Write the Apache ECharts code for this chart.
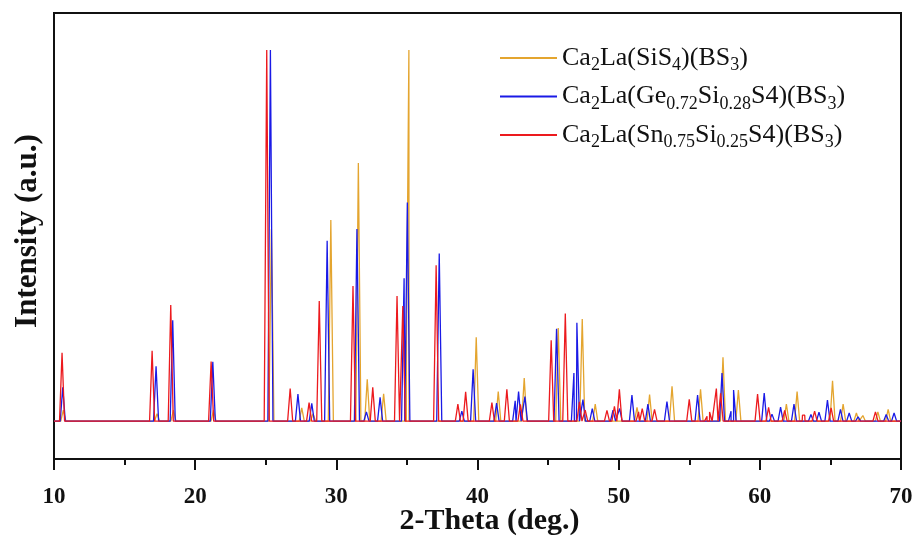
<!DOCTYPE html>
<html>
<head>
<meta charset="utf-8">
<script src="https://cdn.jsdelivr.net/npm/echarts@6/dist/echarts.min.js"></script>
<style>
  html, body { margin: 0; padding: 0; background: #ffffff; }
  #chart { width: 916px; height: 537px; }
</style>
</head>
<body>
<div id="chart"></div>
<script>
// Reflection positions (2θ, deg.) and intensities (a.u.) for each compound.

// Ca2La(SiS4)(BS3)
const sisTheta = [10.66, 17.30, 18.46, 21.30, 25.40, 27.55, 28.35, 29.61, 31.56, 32.19,
  33.35, 34.97, 35.14, 39.91, 41.47, 43.31, 45.72, 47.42, 48.34, 51.30,
  52.19, 53.78, 55.80, 57.39, 58.48, 61.88, 62.64, 65.15, 65.90, 66.84,
  67.30, 68.36, 69.09];
const sisIntensity = [3.0, 2.0, 3.0, 3.0, 51.7, 3.6, 2.0, 54.2, 69.6, 11.3,
  7.4, 22.0, 100, 22.6, 8.0, 11.6, 25.1, 27.5, 4.6, 3.7,
  7.2, 9.4, 8.6, 17.2, 8.4, 4.6, 8.0, 10.9, 4.6, 2.2,
  1.5, 2.5, 3.2];

// Ca2La(Ge0.72Si0.28S4)(BS3)
const geTheta = [10.62, 17.23, 18.41, 21.25, 25.33, 27.28, 28.26, 29.35, 31.46, 32.13,
  33.10, 34.80, 35.03, 37.29, 38.89, 39.69, 41.35, 42.67, 42.91, 43.36,
  45.60, 46.83, 47.04, 47.47, 48.13, 49.60, 50.07, 50.94, 52.07, 53.42,
  55.59, 57.32, 57.96, 58.14, 60.31, 60.86, 61.47, 62.42, 63.62, 64.19,
  64.79, 65.71, 66.33, 66.96, 68.95, 69.51];
const geIntensity = [9.1, 14.8, 27.2, 16.0, 100, 7.3, 4.8, 48.6, 51.8, 2.5,
  6.4, 38.5, 58.9, 45.2, 2.7, 14.0, 4.9, 5.5, 8.0, 6.6,
  24.9, 13.0, 26.5, 5.8, 3.4, 3.0, 3.4, 7.0, 4.6, 5.3,
  7.0, 13.0, 2.7, 8.4, 7.6, 1.9, 3.8, 4.6, 1.8, 2.4,
  5.7, 3.2, 2.2, 1.2, 1.8, 2.2];

// Ca2La(Sn0.75Si0.25S4)(BS3)
const snTheta = [10.57, 16.95, 18.27, 21.13, 25.07, 26.73, 28.07, 28.79, 31.18, 32.58,
  34.30, 34.71, 37.07, 38.61, 39.16, 41.02, 42.08, 43.04, 45.22, 46.22,
  47.22, 47.63, 49.17, 49.70, 50.05, 51.41, 51.67, 52.54, 55.00, 56.26,
  56.44, 56.92, 57.22, 59.84, 60.62, 61.76, 63.02, 63.18, 63.88, 65.05,
  68.19];
const snIntensity = [18.4, 19.0, 31.3, 16.1, 100, 8.8, 5.0, 32.4, 36.4, 9.1,
  33.7, 31.0, 42.0, 4.6, 7.9, 5.0, 8.6, 4.5, 21.8, 29.0,
  5.2, 3.0, 2.9, 4.0, 8.6, 2.5, 3.4, 3.2, 5.9, 1.3,
  2.5, 8.8, 7.5, 7.3, 3.7, 2.9, 1.6, 1.6, 2.7, 3.6,
  2.5];

const seriesNames = ['Ca2La(SiS4)(BS3)', 'Ca2La(Ge0.72Si0.28S4)(BS3)', 'Ca2La(Sn0.75Si0.25S4)(BS3)'];
const legendLabels = [
  '{n|Ca}{s|2}{n|La(SiS}{s|4}{n|)(BS}{s|3}{n|)}',
  '{n|Ca}{s|2}{n|La(Ge}{s|0.72}{n|Si}{s|0.28}{n|S4)(BS}{s|3}{n|)}',
  '{n|Ca}{s|2}{n|La(Sn}{s|0.75}{n|Si}{s|0.25}{n|S4)(BS}{s|3}{n|)}'
];
const lineColors = ['#E4A52F', '#1A1AE6', '#EC1A1E'];

const THETA_MIN = 10, THETA_MAX = 70;
const PEAK_HALF_WIDTH = 0.18;   // foot half-width of each drawn reflection, deg.

// Stick-style pattern: every reflection rises from the baseline to its intensity.
function pattern(theta, intensity) {
  const pts = [[THETA_MIN, 0], [THETA_MAX, 0]];
  theta.forEach((t, i) => {
    pts.push([t - PEAK_HALF_WIDTH, 0], [t, intensity[i]], [t + PEAK_HALF_WIDTH, 0]);
  });
  pts.sort((a, b) => a[0] - b[0]);
  return pts;
}

const datasets = [
  pattern(sisTheta, sisIntensity),
  pattern(geTheta, geIntensity),
  pattern(snTheta, snIntensity)
];

const serif = '"Liberation Serif", "Times New Roman", serif';
const chart = echarts.init(document.getElementById('chart'), null, { renderer: 'canvas' });

chart.setOption({
  animation: false,
  backgroundColor: '#ffffff',
  grid: {
    left: 54, right: 15, top: 13, bottom: 78,
    containLabel: false, outerBoundsMode: 'none',
    show: true, borderColor: '#111', borderWidth: 2, backgroundColor: 'transparent'
  },
  legend: {
    orient: 'vertical',
    left: 499, top: 45, padding: 0,
    itemWidth: 57, itemHeight: 14, itemGap: 9,
    data: seriesNames,
    itemStyle: { opacity: 0 },
    formatter: name => legendLabels[seriesNames.indexOf(name)],
    textStyle: {
      fontFamily: serif, color: '#111',
      rich: {
        n: { fontFamily: serif, fontSize: 26, color: '#111' },
        s: { fontFamily: serif, fontSize: 18, color: '#111', padding: [15, 0, 0, 0] }
      }
    }
  },
  xAxis: {
    type: 'value',
    min: THETA_MIN, max: THETA_MAX, interval: 10,
    name: '2-Theta (deg.)',
    nameLocation: 'middle', nameGap: 47, nameMoveOverlap: false,
    nameTextStyle: { fontFamily: serif, fontWeight: 'bold', fontSize: 30, color: '#111', padding: [0, 0, 0, 24] },
    axisLine: { onZero: false, lineStyle: { color: '#111', width: 2 } },
    axisTick: { inside: false, length: 11, lineStyle: { color: '#111', width: 2 } },
    minorTick: { show: true, splitNumber: 2, length: 6, lineStyle: { color: '#111', width: 2 } },
    axisLabel: { margin: 27, fontFamily: serif, fontWeight: 'bold', fontSize: 23, color: '#111' },
    splitLine: { show: false }
  },
  yAxis: {
    type: 'value',
    min: -10.2, max: 110,
    name: 'Intensity (a.u.)',
    nameLocation: 'middle', nameGap: 11, nameRotate: 90, nameMoveOverlap: false,
    nameTextStyle: { fontFamily: serif, fontWeight: 'bold', fontSize: 31, color: '#111', padding: [0, 0, 0, 10] },
    axisLine: { show: true, lineStyle: { color: '#111', width: 2 } },
    axisTick: { show: false },
    axisLabel: { show: false },
    splitLine: { show: false }
  },
  series: datasets.map((data, i) => ({
    name: seriesNames[i],
    type: 'line',
    data: data,
    symbol: 'none',
    color: lineColors[i],
    lineStyle: { color: lineColors[i], width: 1.3 },
    z: 2 + i
  }))
});
</script>
</body>
</html>
